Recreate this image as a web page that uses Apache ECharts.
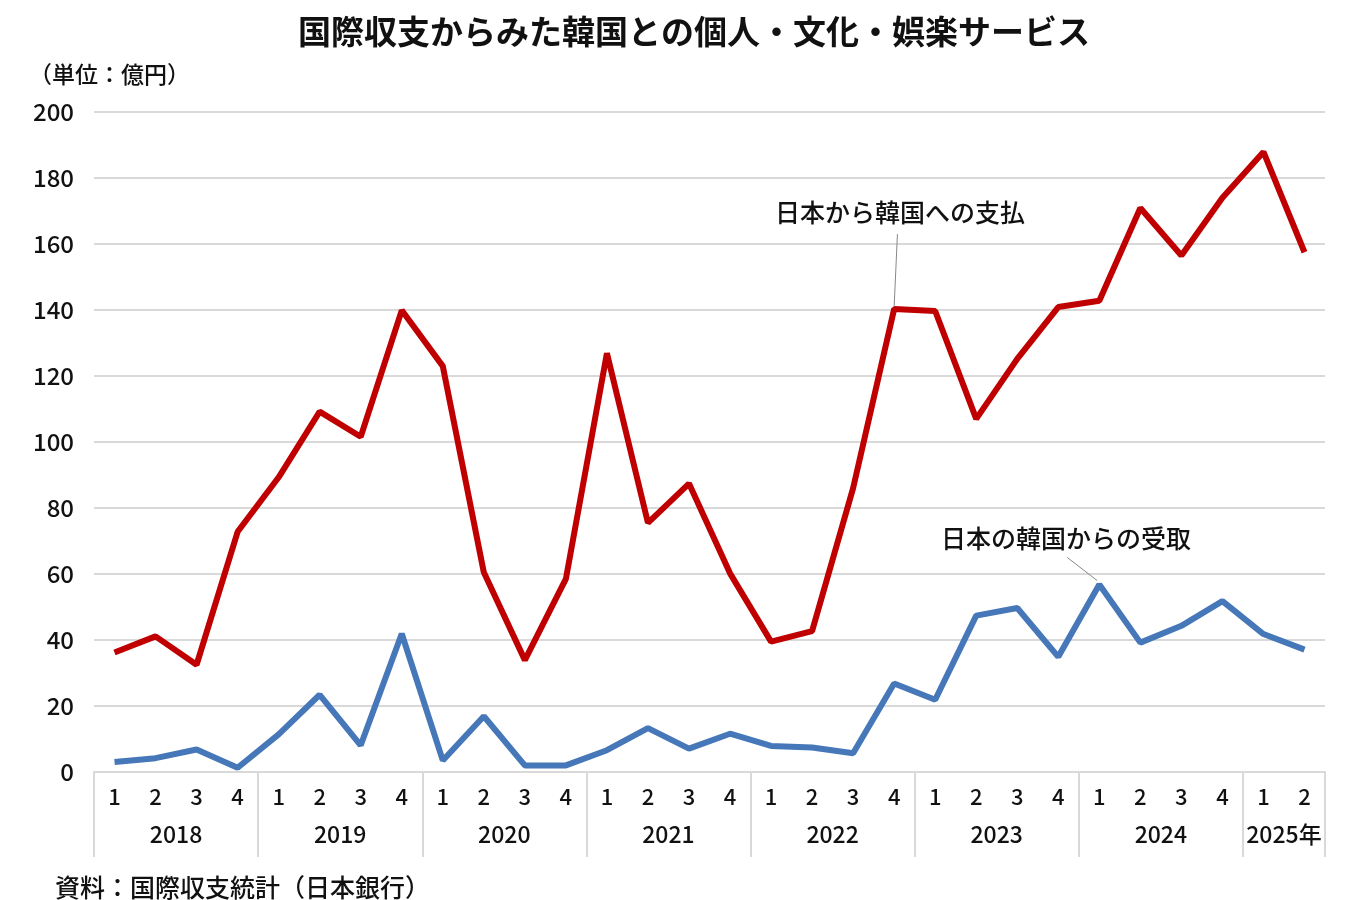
<!DOCTYPE html>
<html>
<head>
<meta charset="utf-8">
<script src="https://cdn.jsdelivr.net/npm/echarts@6/dist/echarts.min.js"></script>
<style>
html,body{margin:0;padding:0;background:#fff;}
#main{width:1350px;height:900px;}
</style>
</head>
<body>
<div id="main"></div>
<script>
var quarters=['1','2','3','4','1','2','3','4','1','2','3','4','1','2','3','4','1','2','3','4','1','2','3','4','1','2','3','4','1','2'];
var years=['2018','2019','2020','2021','2022','2023','2024','2025年'];
var quartersPerYear=[4,4,4,4,4,4,4,2];
// 日本から韓国への支払
var payments=[36.2,41.1,32.5,72.8, 89.3,109.2,101.6,139.9, 123.0,60.5,33.9,58.5, 126.9,75.5,87.4,60.2, 39.5,42.7,86.0,140.3, 139.7,107.0,125.2,140.9, 142.8,170.9,156.5,174.0, 187.9,157.5];
// 日本の韓国からの受取
var receipts=[3.0,4.2,6.8,1.3, 11.4,23.4,8.1,41.9, 3.5,16.9,2.0,2.0, 6.6,13.3,7.1,11.6, 7.9,7.4,5.7,26.8, 21.9,47.4,49.7,34.9, 56.8,39.2,44.3,51.8, 41.8,37.1];

// year boundaries and centres on the 0..30 helper axis
var bounds=[0],centers=[];
quartersPerYear.forEach(function(n,i){
	var s=bounds[i];
	bounds.push(s+n);
	centers.push(s+n/2);
});

var font='"Noto Sans CJK JP", sans-serif';
var chart=echarts.init(document.getElementById('main'));
var option={
	backgroundColor:'#fff',
	animation:false,
	title:[{
		text:'国際収支からみた韓国との個人・文化・娯楽サービス',
		left:293,top:10,
		textStyle:{fontFamily:font,fontSize:33,fontWeight:'bold',color:'#111'}
	},{
		text:'（単位：億円）',
		left:24,top:58,
		textStyle:{fontFamily:font,fontSize:23,fontWeight:500,color:'#111'}
	},{
		text:'資料：国際収支統計（日本銀行）',
		left:50,top:870,
		textStyle:{fontFamily:font,fontSize:25,fontWeight:500,color:'#111'}
	}],
	grid:{left:94,right:25,top:112,bottom:128},
	xAxis:[{
		type:'category',
		data:quarters,
		boundaryGap:true,
		axisLine:{lineStyle:{color:'#d9d9d9',width:2}},
		axisTick:{show:false},
		axisLabel:{fontFamily:font,fontSize:22,fontWeight:500,color:'#111',margin:14,interval:0}
	},{
		type:'value',
		position:'bottom',
		min:0,max:bounds[bounds.length-1],
		axisLine:{show:false},
		splitLine:{show:false},
		axisTick:{show:true,inside:false,length:85,customValues:bounds,lineStyle:{color:'#d9d9d9',width:2}},
		axisLabel:{
			customValues:centers,
			fontFamily:font,fontSize:23,fontWeight:500,color:'#111',margin:51,
			formatter:function(v){
				var i=centers.indexOf(v);
				return i>=0?years[i]:'';
			}
		}
	}],
	yAxis:{
		type:'value',
		min:0,max:200,interval:20,
		axisLine:{show:false},
		axisTick:{show:false},
		splitLine:{lineStyle:{color:'#d9d9d9',width:2}},
		axisLabel:{fontFamily:font,fontSize:24,fontWeight:500,color:'#111',margin:20}
	},
	series:[{
		name:'日本から韓国への支払',
		type:'line',
		data:payments,
		symbol:'none',
		lineStyle:{color:'#c00000',width:6}
	},{
		name:'日本の韓国からの受取',
		type:'line',
		data:receipts,
		symbol:'none',
		lineStyle:{color:'#4677b8',width:6}
	},{
		// annotations on the helper value axis
		type:'scatter',
		xAxisIndex:1,
		data:[],
		silent:true,
		markLine:{
			symbol:'none',
			silent:true,
			lineStyle:{color:'#888',width:1,type:'solid'},
			label:{show:false},
			data:[
				[{coord:[19.5,141]},{coord:[19.58,163]}],
				[{coord:[24.45,58]},{coord:[23.72,65]}]
			]
		},
		markPoint:{
			symbolSize:0,
			silent:true,
			label:{show:true,position:'inside',formatter:'{b}',fontFamily:font,fontSize:25,fontWeight:500,color:'#111'},
			data:[
				{name:'日本から韓国への支払',coord:[19.64,169.5]},
				{name:'日本の韓国からの受取',coord:[23.69,70.8]}
			]
		}
	}]
};
chart.setOption(option);
</script>
</body>
</html>
